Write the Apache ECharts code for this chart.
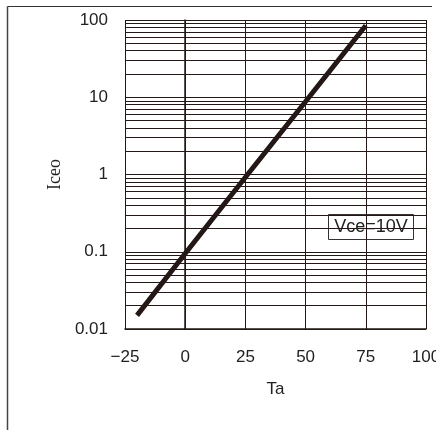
<!DOCTYPE html>
<html>
<head>
<meta charset="utf-8">
<script src="https://cdn.jsdelivr.net/npm/echarts@6/dist/echarts.min.js"></script>
<style>html,body{margin:0;padding:0;background:#fff}#c{width:436px;height:430px}</style>
</head>
<body>
<div id="c"></div>
<script>
var temperature = [-20, 0, 25, 50, 75];
var iceo = [0.015, 0.095, 0.92, 8.8, 85];
var xTicks = [-25, 0, 25, 50, 75, 100];
var yTicks = [0.01, 0.1, 1, 10, 100];
var minorGrid = [];
[0.01, 0.1, 1, 10].forEach(function (d) {
  for (var k = 2; k <= 9; k++) minorGrid.push(+(d * k).toPrecision(3));
});
var noteText = 'Vce=10V';
var ink = '#231815';
var sans = '"Liberation Sans", Arial, sans-serif';

var chart = echarts.init(document.getElementById('c'), null, {renderer: 'canvas'});
chart.setOption({
  animation: false,
  backgroundColor: '#fff',
  grid: {left: 125, right: 10, top: 20, bottom: 101, containLabel: false, outerBoundsMode: 'none'},
  xAxis: {
    type: 'value', min: xTicks[0], max: xTicks[xTicks.length - 1], interval: 25,
    name: 'Ta', nameLocation: 'middle', nameGap: 52,
    nameTextStyle: {fontFamily: sans, fontSize: 17, color: '#222'},
    axisLine: {show: true, lineStyle: {color: ink, width: 1.5}},
    axisTick: {show: false},
    axisLabel: {fontFamily: sans, fontSize: 17, color: '#222', margin: 20,
      formatter: function (v) { return v < 0 ? '\u2212' + Math.abs(v) : String(v); }},
    splitLine: {show: true, lineStyle: {color: ink, width: 1}}
  },
  yAxis: {
    type: 'log', logBase: 10, min: yTicks[0], max: yTicks[yTicks.length - 1],
    name: 'Iceo', nameLocation: 'middle', nameGap: 60,
    nameTextStyle: {fontFamily: '"Liberation Serif", "DejaVu Serif", serif', fontSize: 18, color: '#222'},
    axisLine: {show: true, lineStyle: {color: ink, width: 1.5}},
    axisTick: {show: false},
    axisLabel: {fontFamily: sans, fontSize: 17, color: '#222', margin: 17,
      formatter: function (v) { return String(+v.toPrecision(3)); }},
    splitLine: {show: true, lineStyle: {color: ink, width: 1}}
  },
  graphic: [
    {type: 'line', shape: {x1: 7.5, y1: 6.5, x2: 432, y2: 6.5}, style: {stroke: '#333', lineWidth: 1}},
    {type: 'line', shape: {x1: 7.5, y1: 6.5, x2: 7.5, y2: 430}, style: {stroke: '#444', lineWidth: 1.5}},
    {type: 'group', left: 328, top: 214, z: 10, children: [
      {type: 'rect', shape: {x: 0, y: 0, width: 85, height: 25}, style: {fill: '#fff', stroke: '#333', lineWidth: 1}},
      {type: 'text', style: {text: noteText, x: 42.5, y: 13, align: 'center', verticalAlign: 'middle',
        font: '18px "Liberation Sans", Arial', fill: '#222'}}
    ]}
  ],
  series: [{
    type: 'line',
    data: temperature.map(function (t, i) { return [t, iceo[i]]; }),
    showSymbol: false,
    lineStyle: {color: ink, width: 5},
    z: 5,
    markLine: {
      silent: true, symbol: ['none', 'none'], label: {show: false},
      lineStyle: {color: ink, width: 1, type: 'solid'},
      data: minorGrid.map(function (v) { return {yAxis: v}; }),
      z: 1
    }
  }]
});
</script>
</body>
</html>
